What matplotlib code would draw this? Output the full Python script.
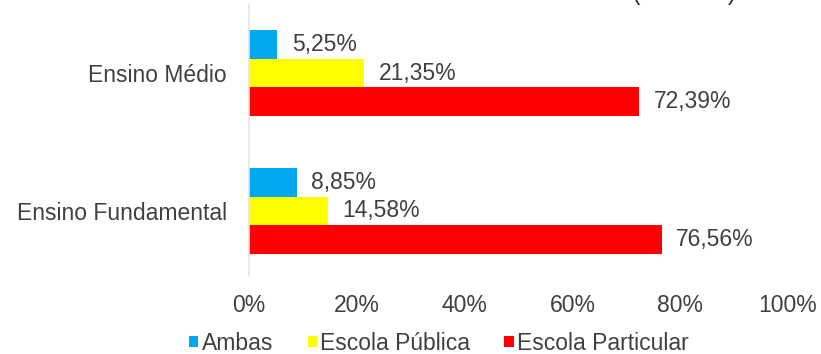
import matplotlib.pyplot as plt
import numpy as np
from matplotlib.patches import Patch

plt.rcParams['font.family'] = ['Liberation Sans', 'DejaVu Sans']

categorias = ['Ensino Fundamental', 'Ensino Médio']
series = ['Ambas', 'Escola Pública', 'Escola Particular']
ambas = [8.85, 5.25]
publica = [14.58, 21.35]
particular = [76.56, 72.39]
cores = ['#00A8F0', '#FFFF00', '#FF0000']
xticks = [0, 20, 40, 60, 80, 100]

fig = plt.figure(figsize=(8.21, 3.54), dpi=100)
ax = fig.add_axes([249 / 821, 1 - 275 / 354, 539 / 821, 270 / 354])

fs = 16.5
texto = '#404040'
y = np.arange(len(categorias))
h = 0.21
for k, (vals, cor) in enumerate(zip([ambas, publica, particular], cores)):
    pos = y + h * (1 - k)
    ax.barh(pos, vals, height=h, color=cor, label=series[k])
    for p, v in zip(pos, vals):
        ax.text(v + 2.7, p, ('%.2f%%' % v).replace('.', ','), va='center',
                ha='left', fontsize=fs, color=texto)

ax.set_xlim(0, 100)
ax.set_ylim(-0.4638, 1.4928)
ax.set_yticks(y)
ax.set_yticklabels(categorias, fontsize=fs, color=texto)
ax.set_xticks(xticks)
ax.set_xticklabels(['%d%%' % t for t in xticks], fontsize=fs, color=texto)
ax.tick_params(axis='both', length=0)
ax.tick_params(axis='x', pad=14)
ax.tick_params(axis='y', pad=16)
for s in ['top', 'right', 'bottom']:
    ax.spines[s].set_visible(False)
ax.spines['left'].set_color('#E4E4E4')
ax.spines['left'].set_linewidth(1.2)

handles = [Patch(facecolor=c, edgecolor='none') for c in cores]
fig.legend(handles, series, loc='center', bbox_to_anchor=(439 / 821, 1 - 343 / 354),
           ncol=3, frameon=False, fontsize=fs, handlelength=0.4, handleheight=0.4,
           handletextpad=0.15, columnspacing=1.5, labelcolor=texto,
           borderpad=0, borderaxespad=0)

fig.text(633 / 821, 1 - 5 / 354, '(', fontsize=16, color='#222222', va='bottom')
fig.text(728 / 821, 1 - 5 / 354, ')', fontsize=16, color='#222222', va='bottom')

fig.savefig('out.png', dpi=100)
